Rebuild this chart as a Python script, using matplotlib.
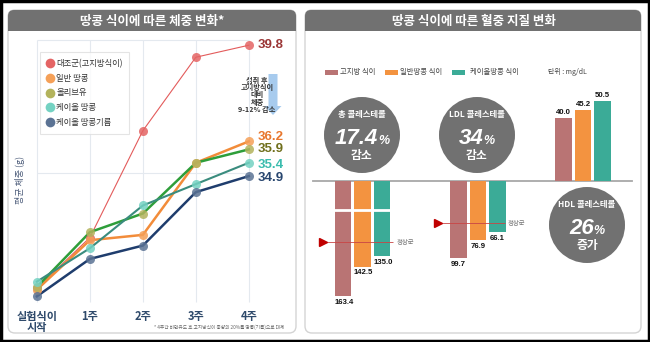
import numpy as np
import matplotlib
matplotlib.use("Agg")
import matplotlib.pyplot as plt
from matplotlib.patches import FancyBboxPatch, Rectangle, Circle, FancyArrow
from matplotlib.lines import Line2D

plt.rcParams['font.family'] = ['Noto Sans CJK KR', 'DejaVu Sans']

W, H = 650, 342

# ---- 체중 변화 (left panel)
WEEKS = ["실험식이\n시작", "1주", "2주", "3주", "4주"]
GROUPS = ["대조군(고지방식이)", "일반 땅콩", "올리브유", "케이올 땅콩", "케이올 땅콩기름"]
W_CONTROL = [30.7, 32.6, 36.6, 39.35, 39.8]
W_PEANUT = [30.65, 32.5, 32.7, 35.4, 36.2]
W_OLIVE = [30.75, 32.8, 33.5, 35.4, 35.9]
W_KO_PEANUT = [30.95, 32.2, 33.8, 34.6, 35.4]
W_KO_OIL = [30.4, 31.8, 32.3, 34.3, 34.9]
ARROW_NOTE = "섭취 후\n고지방식이\n대비\n체중\n9-12% 감소"
FOOTNOTE = "* 4주간 비만유도 후 고지방식이 중량의 20%를 땅콩(기름)으로 대체"

# ---- 혈중 지질 변화 (right panel)
DIETS = ["고지방 식이", "일반땅콩 식이", "케이올땅콩 식이"]
TOTAL_CHOL = [163.4, 142.5, 135.0]
LDL_CHOL = [99.7, 76.9, 66.1]
HDL_CHOL = [40.0, 45.2, 50.5]
NORMAL_TOTAL = 125.0
NORMAL_LDL = 55.0
CHANGES = [("총 콜레스테롤", "17.4", "감소"),
           ("LDL 콜레스테롤", "34", "감소"),
           ("HDL 콜레스테롤", "26", "증가")]

# styles
LINE_COL = ['#e35b5b', '#f28c3a', '#2e9e3a', '#3a8c7e', '#1f3d6d']
MARK_COL = ['#e46464', '#f5a058', '#b3b35c', '#74d2c2', '#5b7394']
LINE_W = [0.8, 1.8, 1.8, 1.5, 1.8]
VAL_COL = ['#9b3636', '#e8772e', '#6f6f1c', '#3bbcae', '#28466f']
VAL_DY = [0, 3.0, 0, -1.5, -1.5]   # label nudge in points
BAR_COL = ['#b97474', '#f39340', '#3bab97']
GRAY = '#717171'


def px_axes(x0, y0, x1, y1, z=2):
    ax = fig.add_axes([x0 / W, 1 - y1 / H, (x1 - x0) / W, (y1 - y0) / H], zorder=z)
    ax.patch.set_alpha(0)
    return ax


fig = plt.figure(figsize=(6.5, 3.42), dpi=100, facecolor='white')

# background / decoration layer in pixel units
bg = fig.add_axes([0, 0, 1, 1], zorder=0)
bg.set_xlim(0, W)
bg.set_ylim(H, 0)
bg.axis('off')

for (x0, x1, title, tx) in [(8, 296, "땅콩 식이에 따른 체중 변화*", 152),
                            (305, 641, "땅콩 식이에 따른 혈중 지질 변화", 474)]:
    bg.add_patch(FancyBboxPatch((x0, 10), x1 - x0, 323, boxstyle="round,pad=0,rounding_size=7",
                                fc='white', ec='#d4d4d4', lw=1.0))
    bg.add_patch(FancyBboxPatch((x0, 10), x1 - x0, 21, boxstyle="round,pad=0,rounding_size=6",
                                fc=GRAY, ec='none'))
    bg.add_patch(Rectangle((x0, 20), x1 - x0, 11, fc=GRAY, ec='none'))
    bg.text(tx, 21, title, color='white', fontsize=9, fontweight='bold', ha='center', va='center')

bg.add_patch(Rectangle((1, 1), W - 2, H - 2, fill=False, ec='black', lw=2.5))

# ---------------- left: weight line chart
ax = px_axes(30, 38, 296, 307)
ax.set_xlim(-0.13, 4.89)
ax.set_ylim(30, 40.07)
for s in ax.spines.values():
    s.set_visible(False)
x = np.arange(len(WEEKS))
ax.vlines(x, 30.2, 40, color='#e4e9ef', lw=0.8, zorder=0)
ax.hlines([35, 40], 0, 4, color='#e4e9ef', lw=0.8, zorder=0)

series = [W_CONTROL, W_PEANUT, W_OLIVE, W_KO_PEANUT, W_KO_OIL]
for i, vals in enumerate(series):
    ax.plot(x, vals, color=LINE_COL[i], lw=LINE_W[i], zorder=2)
    ax.plot(x, vals, ls='', marker='o', ms=6.5, color=MARK_COL[i], alpha=0.85, mec='none', zorder=3)
    ax.annotate(f"{vals[-1]:.1f}", (4.17, vals[-1]), xytext=(0, VAL_DY[i]), textcoords='offset points',
                color=VAL_COL[i], fontsize=9.5, fontweight='bold',
                family=['Liberation Sans', 'DejaVu Sans'], ha='left', va='center')

ax.set_xticks(x)
ax.set_xticklabels(WEEKS, fontsize=8, color='#2f4a6b', fontweight='bold', linespacing=0.85)
ax.set_yticks([])
ax.tick_params(axis='x', length=0, pad=2)

handles = [Line2D([], [], ls='', marker='o', ms=7, color=MARK_COL[i], mec='none') for i in range(5)]
leg = ax.legend(handles, GROUPS, loc='upper left', bbox_to_anchor=(0.036, 0.948), fontsize=6,
                labelspacing=0.7, handletextpad=0.2, borderpad=0.8, handlelength=1.0,
                frameon=True, fancybox=False, borderaxespad=0)
leg.get_frame().set_edgecolor('#dedede')
leg.get_frame().set_linewidth(0.8)
for t in leg.get_texts():
    t.set_color('#333333')

bg.text(20, 180, "평균 체중 (g)", rotation=90, fontsize=6.5, color='#4a5a78', ha='center', va='center')
bg.add_patch(FancyArrow(273, 74, 0, 32, width=9, head_width=17, head_length=9,
                        length_includes_head=False, fc='#a7cbee', ec='none'))
bg.text(257, 95, ARROW_NOTE, fontsize=5.2, color='#333333', ha='center', va='center',
        linespacing=1.05, fontweight='bold')
bg.text(219, 327, FOOTNOTE, fontsize=3.4, color='#666666', ha='center', va='center')

# ---------------- right: lipid bars
bg.plot([313, 632], [181, 181], color='#a8a8a8', lw=1.3)

# legend row
lx = [325, 385, 452]
tx = [340, 400, 470]
for i, d in enumerate(DIETS):
    bg.add_patch(Rectangle((lx[i], 69.5), 13, 5, fc=BAR_COL[i], ec='none'))
    bg.text(tx[i], 72, d, fontsize=5.3, color='#444444', ha='left', va='center')
bg.text(548, 72, "단위 : mg/dL", fontsize=5.0, color='#444444', ha='left', va='center')

PITCH = 19.5
BAR_W = 0.83


def bar_axes(x0, y0, x1, y1, first_center, pitch=PITCH):
    a = px_axes(x0, y0, x1, y1)
    a.set_xlim((x0 - first_center) / pitch, (x1 - first_center) / pitch)
    a.axis('off')
    return a


def label_font():
    return dict(fontsize=5.6, fontweight='bold', color='#111111', ha='center',
                family=['Liberation Sans', 'DejaVu Sans'])


# total cholesterol with broken axis
BRK, GAP = 20.7, 81.3


def fwd(v):
    v = np.asarray(v, dtype=float)
    return np.where(v <= BRK, v, np.maximum(BRK, v - GAP))


def inv(u):
    u = np.asarray(u, dtype=float)
    return np.where(u <= BRK, u, u + GAP)


def px_of(first_center, px):
    return (px - first_center) / PITCH


axt = bar_axes(315, 181, 420, 315, 343)
axt.set_yscale('function', functions=(fwd, inv))
axt.set_ylim(134 / 1.4 + GAP, 0)
xb = np.arange(3)
axt.bar(xb, TOTAL_CHOL, width=BAR_W, color=BAR_COL, zorder=2)
axt.hlines(BRK, -0.6, 2.6, color='white', lw=2.0, zorder=3)
for i, v in enumerate(TOTAL_CHOL):
    axt.annotate(f"{v:.1f}", (i + 0.05, v), xytext=(0, -2), textcoords='offset points', va='top',
                 **label_font())
axt.hlines(NORMAL_TOTAL, px_of(343, 323), px_of(343, 393), color='#c94545', lw=0.6, zorder=4)
axt.plot([px_of(343, 323)], [NORMAL_TOTAL], marker='>', ms=6, color='#c00000', zorder=5, clip_on=False)
axt.text(px_of(343, 397), NORMAL_TOTAL, "정상군", fontsize=4.6, color='#777777', va='center', ha='left')

# LDL
axl = bar_axes(430, 181, 540, 300, 458.5)
axl.set_ylim(119 / 0.77, 0)
axl.bar(xb, LDL_CHOL, width=BAR_W, color=BAR_COL, zorder=2)
for i, v in enumerate(LDL_CHOL):
    axl.annotate(f"{v:.1f}", (i, v), xytext=(0, -2), textcoords='offset points', va='top',
                 **label_font())
axl.hlines(NORMAL_LDL, px_of(458.5, 438), px_of(458.5, 505), color='#c94545', lw=0.6, zorder=4)
axl.plot([px_of(458.5, 438)], [NORMAL_LDL], marker='>', ms=6, color='#c00000', zorder=5, clip_on=False)
axl.text(px_of(458.5, 508), NORMAL_LDL, "정상군", fontsize=4.6, color='#777777', va='center', ha='left')

# HDL (upward)
axh = bar_axes(545, 85, 625, 181, 563.5)
axh.set_ylim(0, 96 / 1.58)
axh.bar(xb, HDL_CHOL, width=BAR_W, color=BAR_COL, zorder=2)
for i, v in enumerate(HDL_CHOL):
    axh.annotate(f"{v:.1f}", (i, v), xytext=(0, 1.5), textcoords='offset points', va='bottom',
                 **label_font())

# change circles
CIRCLES = [(362, 135), (477, 135), (587, 225)]
fig.canvas.draw()
rend = fig.canvas.get_renderer()
for (cx, cy), (name, pct, word) in zip(CIRCLES, CHANGES):
    bg.add_patch(Circle((cx, cy), 38, fc=GRAY, ec='none'))
    bg.text(cx, cy - 20, name, fontsize=6.0, fontweight='bold', color='white', ha='center', va='center')
    tn = bg.text(cx, cy + 4, pct, fontsize=16, fontweight='bold', style='italic', color='white',
                 ha='left', va='center', family=['Liberation Sans', 'DejaVu Sans'])
    tp = bg.text(cx, cy + 6, "%", fontsize=9, fontweight='bold', style='italic', color='white',
                 ha='left', va='center', family=['Liberation Sans', 'DejaVu Sans'])
    wn = tn.get_window_extent(rend).width
    wp = tp.get_window_extent(rend).width
    start = cx - (wn + wp) / 2
    tn.set_x(start)
    tp.set_x(start + wn)
    bg.text(cx, cy + 21, word, fontsize=8.5, fontweight='bold', color='white', ha='center', va='center')

fig.savefig('out.png', dpi=100, facecolor='white')
